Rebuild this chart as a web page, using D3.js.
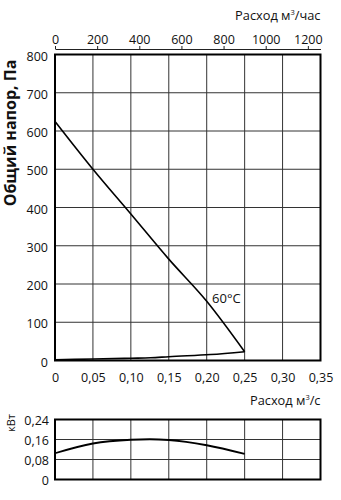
<!DOCTYPE html>
<html>
<head>
<meta charset="utf-8">
<script src="https://cdn.jsdelivr.net/npm/d3@7"></script>
<style>
  html, body { margin: 0; padding: 0; background: #fff; }
  svg { display: block; }
  text { font-family: "Open Sans", "DejaVu Sans", sans-serif; fill: #111; }
</style>
</head>
<body>
<div id="chart"></div>
<script>
// Flow rate, m³/s
const flowTicks = [0, 0.05, 0.10, 0.15, 0.20, 0.25, 0.30, 0.35];
const flowTickLabels = ["0", "0,05", "0,10", "0,15", "0,20", "0,25", "0,30", "0,35"];
// Flow rate, m³/h (top axis)
const flowHourTicks = [0, 200, 400, 600, 800, 1000, 1200];
// Total pressure, Pa
const pressureTicks = [0, 100, 200, 300, 400, 500, 600, 700, 800];
// Power, kW
const powerTicks = [0, 0.08, 0.16, 0.24];
const powerTickLabels = ["0", "0,08", "0,16", "0,24"];

// Fan curve at 60°C
const fanFlow =     [0,   0.05, 0.10, 0.15, 0.20, 0.25];
const fanPressure = [625, 500,  383,  265,  155,  23];
// Lower (system) curve
const sysFlow =     [0, 0.05, 0.10, 0.126, 0.15, 0.205, 0.25];
const sysPressure = [2, 4,    6,    7,     10,   15.5,  23];
// Power consumption
const powerFlow =  [0,     0.05,  0.10,  0.125, 0.15,  0.20,  0.25];
const powerValue = [0.105, 0.144, 0.159, 0.161, 0.158, 0.137, 0.102];

const W = 341, H = 500;
const left = 55, right = 320.5;
const mainTop = 54.5, mainBottom = 360.5;
const powTop = 419.5, powBottom = 479.5;

const svg = d3.select("#chart").append("svg")
  .attr("width", W).attr("height", H);

const x = d3.scaleLinear().domain([0, 0.35]).range([left, right]);
const xHour = d3.scaleLinear().domain([0, 0.35 * 3600]).range([left, right]);
const y = d3.scaleLinear().domain([0, 800]).range([mainBottom, mainTop]);
const yP = d3.scaleLinear().domain([0, 0.24]).range([powBottom, powTop]);

const gridColor = "#333";

// ---- main panel grid ----
const gMain = svg.append("g");
gMain.selectAll("line.vx").data(flowTicks.slice(1, -1)).join("line")
  .attr("x1", d => x(d)).attr("x2", d => x(d))
  .attr("y1", mainTop).attr("y2", mainBottom)
  .attr("stroke", gridColor).attr("stroke-width", 1);
gMain.selectAll("line.hy").data(pressureTicks.slice(1, -1)).join("line")
  .attr("x1", left).attr("x2", right)
  .attr("y1", d => y(d)).attr("y2", d => y(d))
  .attr("stroke", gridColor).attr("stroke-width", 1);
gMain.append("rect")
  .attr("x", left).attr("y", mainTop)
  .attr("width", right - left).attr("height", mainBottom - mainTop)
  .attr("fill", "none").attr("stroke", "#000").attr("stroke-width", 2);

// ---- power panel grid ----
const gPow = svg.append("g");
gPow.selectAll("line.vx").data(flowTicks.slice(1, -1)).join("line")
  .attr("x1", d => x(d)).attr("x2", d => x(d))
  .attr("y1", powTop).attr("y2", powBottom)
  .attr("stroke", gridColor).attr("stroke-width", 1);
gPow.selectAll("line.hy").data(powerTicks.slice(1, -1)).join("line")
  .attr("x1", left).attr("x2", right)
  .attr("y1", d => yP(d)).attr("y2", d => yP(d))
  .attr("stroke", gridColor).attr("stroke-width", 1);
gPow.append("rect")
  .attr("x", left).attr("y", powTop)
  .attr("width", right - left).attr("height", powBottom - powTop)
  .attr("fill", "none").attr("stroke", "#000").attr("stroke-width", 2);

// ---- axes ----
const fs = 12.5;

// left pressure axis
const axLeft = svg.append("g").attr("transform", `translate(${left},1.5)`)
  .call(d3.axisLeft(y).tickValues(pressureTicks).tickSize(0).tickPadding(7));
axLeft.select(".domain").remove();
axLeft.selectAll("text").attr("font-size", fs).style("font-family", null);

// bottom flow axis (m³/s)
const axBottom = svg.append("g").attr("transform", `translate(0,${mainBottom + 4})`)
  .call(d3.axisBottom(x).tickValues(flowTicks)
    .tickFormat((d, i) => flowTickLabels[i]).tickSize(0).tickPadding(9));
axBottom.select(".domain").remove();
axBottom.selectAll("text").attr("font-size", fs).style("font-family", null);

// top flow axis (m³/h)
const topY = 49;
const axTop = svg.append("g").attr("transform", `translate(0,${topY})`)
  .call(d3.axisTop(xHour).tickValues(flowHourTicks).tickFormat(d3.format("d"))
    .tickSize(3).tickPadding(2).tickSizeOuter(0));
axTop.select(".domain").attr("stroke", "#222").attr("stroke-width", 1);
axTop.selectAll(".tick line").attr("stroke", "#222");
axTop.selectAll("text").attr("font-size", fs).style("font-family", null);

// power axis
const axPow = svg.append("g").attr("transform", `translate(${left},1)`)
  .call(d3.axisLeft(yP).tickValues(powerTicks)
    .tickFormat((d, i) => powerTickLabels[i]).tickSize(0).tickPadding(6));
axPow.select(".domain").remove();
axPow.selectAll("text").attr("font-size", fs).style("font-family", null);

// ---- axis titles ----
function flowTitle(yPos, unitTail) {
  const t = svg.append("text")
    .attr("x", right).attr("y", yPos)
    .attr("text-anchor", "end").attr("font-size", 12.8);
  t.append("tspan").text("Расход м");
  t.append("tspan").attr("font-size", 7.5).attr("dy", -5).text("3");
  t.append("tspan").attr("dy", 5).text(unitTail);
}
flowTitle(20, "/час");
flowTitle(405, "/с");

svg.append("text")
  .attr("transform", "translate(16,133) rotate(-90)")
  .attr("text-anchor", "middle")
  .attr("font-size", 16).attr("font-weight", 700)
  .text("Общий напор, Па");

svg.append("text")
  .attr("transform", "translate(15,423) rotate(-90)")
  .attr("text-anchor", "middle")
  .attr("font-size", 11)
  .text("кВт");

// ---- curves ----
const lineMain = d3.line().x(d => x(d[0])).y(d => y(d[1])).curve(d3.curveMonotoneX);
const linePow = d3.line().x(d => x(d[0])).y(d => yP(d[1])).curve(d3.curveMonotoneX);

svg.append("path")
  .datum(d3.zip(fanFlow, fanPressure))
  .attr("d", lineMain)
  .attr("fill", "none").attr("stroke", "#000").attr("stroke-width", 1.6);

svg.append("path")
  .datum(d3.zip(sysFlow, sysPressure))
  .attr("d", lineMain)
  .attr("fill", "none").attr("stroke", "#000").attr("stroke-width", 1.6);

svg.append("path")
  .datum(d3.zip(powerFlow, powerValue))
  .attr("d", linePow)
  .attr("fill", "none").attr("stroke", "#000").attr("stroke-width", 1.8);

svg.append("text")
  .attr("x", x(0.207)).attr("y", y(150))
  .attr("font-size", 13)
  .text("60°C");
</script>
</body>
</html>
